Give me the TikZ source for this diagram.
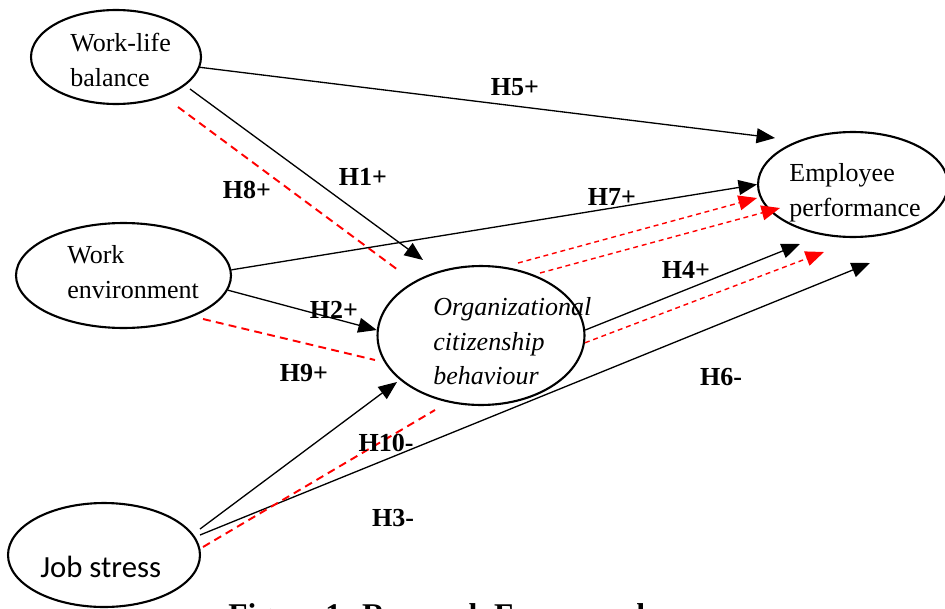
\documentclass[tikz,border=0pt]{standalone}
\usepackage{fontspec}
\setmainfont{Liberation Serif}
\newfontfamily\carlito{Carlito}
\usetikzlibrary{shapes.geometric,arrows.meta}
\tikzset{
  var/.style={ellipse, draw=black, line width=1.2pt, inner sep=0pt},
  vtxt/.style={anchor=north west, inner sep=0pt, align=left, font=\fontsize{14.8}{19.8}\selectfont},
  Be/.style={draw=black, line width=0.75pt, -{Triangle[length=10.5pt,width=8.5pt]}},
  Re/.style={draw=red, line width=0.8pt, dash pattern=on 2.8pt off 2.2pt, -{Triangle[length=10.5pt,width=8.5pt]}},
  Rd/.style={draw=red, line width=1.1pt, dash pattern=on 4.5pt off 3pt},
  hyp/.style={font=\fontsize{14.8}{16}\selectfont\bfseries, inner sep=0pt},
  capt/.style={font=\fontsize{18}{20}\selectfont\bfseries, inner sep=0pt}
}
\begin{document}
\begin{tikzpicture}[x=0.02cm, y=-0.02cm]
  \useasboundingbox (0,0) rectangle (945,608);
  % variables
  \node[var, minimum width=3.4cm, minimum height=1.88cm] (wlb) at (116,57) {};
  \node[var, minimum width=4.3cm, minimum height=2.1cm] (we) at (123.5,275.5) {};
  \node[var, minimum width=4.14cm, minimum height=2.78cm] (ocb) at (481,335.5) {};
  \node[var, minimum width=3.8cm, minimum height=2.1cm] (ep) at (853,184.5) {};
  \node[var, minimum width=3.84cm, minimum height=2.08cm] (js) at (104,555) {};
  \node[vtxt] (wlbt) at (70,33) {Work-life\\balance};
  \node[vtxt] (wet) at (67,245) {Work\\environment};
  \node[vtxt, font=\fontsize{14.8}{19.8}\selectfont\itshape] (ocbt) at (433,297) {Organizational\\citizenship\\behaviour};
  \node[vtxt] (ept) at (789,163) {Employee\\performance};
  \node[vtxt, font=\fontsize{17.5}{20}\selectfont\carlito] (jst) at (40,556) {Job stress};
  % free ends
  \coordinate (h5e) at (775,138);
  \coordinate (h1s) at (190,89);  \coordinate (h1e) at (423,260);
  \coordinate (h8s) at (178,107); \coordinate (h8e) at (398,270);
  \coordinate (m1s) at (518,263); \coordinate (m1e) at (757,198);
  \coordinate (m2s) at (540,273); \coordinate (m2e) at (780,208);
  \coordinate (h9s) at (203,319); \coordinate (h9e) at (375,360);
  \coordinate (h4e) at (800,244);
  \coordinate (m3e) at (824,252);
  \coordinate (h6s) at (200,535); \coordinate (h6e) at (870,263);
  \coordinate (h3s) at (200,529); \coordinate (h3e) at (397,382);
  \coordinate (h10s) at (203,547); \coordinate (h10e) at (435,410);
  % paths
  \draw[Be] (wlb.-7)--(h5e);
  \draw[Be] (h1s)--(h1e);
  \draw[Rd] (h8s)--(h8e);
  \draw[Be] (we.3)--(ep.west);
  \draw[Re] (m1s)--(m1e); \draw[Re] (m2s)--(m2e);
  \draw[Be] (we.-8)--(ocb.177);
  \draw[Rd] (h9s)--(h9e);
  \draw[Be] (ocb.3)--(h4e);
  \draw[Re] (ocb.-4)--(m3e);
  \draw[Be] (h6s)--(h6e);
  \draw[Be] (h3s)--(h3e);
  \draw[Rd] (h10s)--(h10e);
  % labels
  \node[hyp] (l5) at (515,87) {H5+};
  \node[hyp] (l1) at (363,177) {H1+};
  \node[hyp] (l8) at (247,190) {H8+};
  \node[hyp] (l7) at (612,197) {H7+};
  \node[hyp] (l2) at (334,310) {H2+};
  \node[hyp] (l9) at (304,373) {H9+};
  \node[hyp] (l4) at (686,270) {H4+};
  \node[hyp] (l6) at (721,377) {H6-};
  \node[hyp] (l10) at (386,443) {H10-};
  \node[hyp] (l3) at (393,518) {H3-};
  \node[capt, anchor=base west] (cap) at (228,625) {Figure 1: Research Framework};
\end{tikzpicture}
\end{document}
